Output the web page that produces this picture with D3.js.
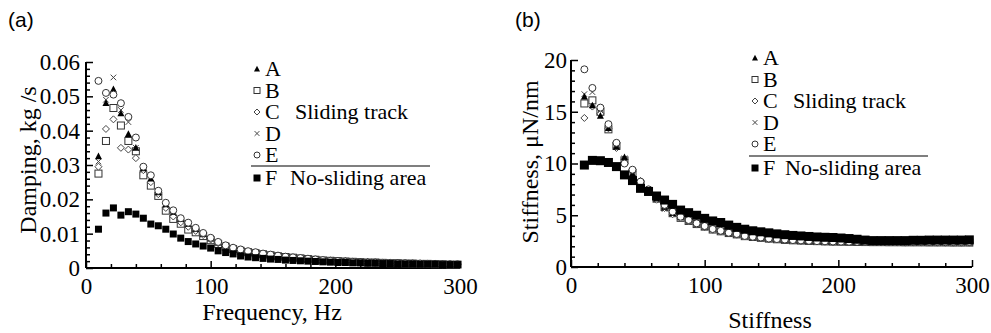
<!DOCTYPE html>
<html>
<head>
<meta charset="utf-8">
<script src="https://cdn.jsdelivr.net/npm/d3@7"></script>
<style>
  body { margin: 0; background: #fff; }
  svg { display: block; }
</style>
</head>
<body>
<div id="chart"></div>
<script>
// frequency (Hz) and stiffness sample points, shared by both panels
const freq = [10,16,22,28,34,40,46,52,58,64,70,76,82,88,94,100,106,112,118,124,130,136,142,148,154,160,166,172,178,184,190,196,202,208,214,220,226,232,238,244,250,256,262,268,274,280,286,292,298];

// panel (a): damping, kg/s
const dampA = [.0325,.048,.052,.045,.039,.035,.029,.026,.022,.0185,.0163,.0142,.0128,.0114,.0099,.0086,.0074,.0065,.0058,.0053,.0048,.0045,.0041,.0038,.0035,.0032,.003,.0028,.0026,.0024,.0023,.0022,.0021,.002,.0019,.0018,.0017,.0016,.0015,.0015,.0014,.0013,.0013,.0012,.0012,.0011,.0011,.0011,.001];
const dampB = [.0275,.037,.0466,.0415,.037,.034,.027,.024,.021,.0167,.0143,.0129,.0112,.0104,.0093,.0081,.007,.0062,.0055,.005,.0046,.0043,.004,.0037,.0034,.0032,.003,.0028,.0026,.0024,.0022,.0021,.002,.0019,.0018,.0017,.0016,.0016,.0015,.0014,.0014,.0013,.0013,.0012,.0012,.0011,.0011,.001,.001];
const dampC = [.0295,.0405,.0433,.035,.0345,.032,.0285,.025,.0215,.0175,.015,.0133,.012,.0108,.0096,.0083,.0072,.0063,.0057,.0052,.0047,.0044,.0041,.0038,.0035,.0032,.003,.0028,.0026,.0024,.0022,.0021,.002,.0019,.0018,.0017,.0017,.0016,.0015,.0014,.0014,.0013,.0013,.0012,.0012,.0011,.0011,.001,.001];
const dampD = [.031,.049,.0555,.046,.0425,.035,.0288,.0262,.0222,.0182,.016,.014,.0126,.0112,.0098,.0085,.0074,.0064,.0058,.0053,.0048,.0045,.0041,.0038,.0035,.0033,.003,.0028,.0026,.0024,.0023,.0022,.0021,.002,.0019,.0018,.0017,.0016,.0015,.0015,.0014,.0013,.0013,.0012,.0012,.0011,.0011,.0011,.001];
const dampE = [.0545,.051,.0505,.048,.044,.038,.0295,.027,.0225,.019,.0168,.0145,.0132,.0117,.0102,.0088,.0076,.0066,.0059,.0054,.0049,.0046,.0042,.0039,.0036,.0033,.0031,.0029,.0027,.0025,.0023,.0021,.002,.0019,.0018,.0017,.0016,.0016,.0015,.0015,.0014,.0014,.0013,.0013,.0012,.0012,.0011,.0011,.0011];
const dampF = [.0113,.016,.0175,.0154,.0164,.0157,.0145,.0128,.0123,.0113,.0099,.0087,.0077,.007,.0064,.0058,.005,.0045,.0041,.0035,.0032,.003,.0028,.0026,.0025,.0023,.0022,.0021,.002,.0019,.0018,.0017,.0016,.0016,.0015,.0015,.0014,.0014,.0013,.0013,.0012,.0012,.0012,.0011,.0011,.0011,.001,.001,.001];

// panel (b): stiffness, uN/nm
const stiffA = [16.45,15.6,14.6,13.4,11.6,10.6,9.0,8.3,7.4,6.6,5.8,5.2,4.8,4.5,4.2,3.9,3.65,3.45,3.3,3.15,3.0,2.9,2.82,2.75,2.68,2.62,2.58,2.55,2.52,2.5,2.48,2.46,2.45,2.44,2.42,2.41,2.4,2.4,2.39,2.39,2.38,2.38,2.38,2.37,2.37,2.37,2.36,2.36,2.36];
const stiffB = [15.8,16.1,15.0,13.3,11.7,10.3,9.1,8.0,7.3,6.6,5.8,5.2,4.75,4.45,4.15,3.9,3.62,3.45,3.28,3.15,2.98,2.9,2.82,2.74,2.68,2.62,2.58,2.55,2.52,2.5,2.47,2.45,2.44,2.43,2.42,2.41,2.4,2.4,2.39,2.39,2.38,2.38,2.38,2.37,2.37,2.37,2.36,2.36,2.36];
const stiffC = [14.4,15.5,14.8,13.4,11.5,10.4,9.2,8.3,7.3,6.5,5.7,5.1,4.7,4.4,4.1,3.85,3.6,3.42,3.26,3.12,2.96,2.88,2.8,2.72,2.66,2.6,2.56,2.53,2.5,2.48,2.46,2.44,2.43,2.42,2.41,2.4,2.4,2.39,2.39,2.38,2.38,2.37,2.37,2.37,2.36,2.36,2.36,2.35,2.35];
const stiffD = [16.7,16.9,15.2,13.5,11.7,10.5,9.1,8.2,7.35,6.6,5.6,5.1,4.75,4.45,4.15,3.9,3.62,3.45,3.28,3.14,2.97,2.9,2.82,2.74,2.67,2.62,2.57,2.54,2.51,2.49,2.47,2.45,2.44,2.43,2.42,2.41,2.4,2.4,2.39,2.39,2.38,2.38,2.37,2.37,2.37,2.36,2.36,2.36,2.35];
const stiffE = [19.1,17.3,15.4,13.8,12.0,10.0,9.4,8.25,7.5,6.8,6.0,5.35,4.86,4.54,4.22,3.96,3.67,3.5,3.31,3.19,3.0,2.92,2.85,2.75,2.7,2.65,2.6,2.57,2.53,2.5,2.48,2.46,2.45,2.44,2.43,2.42,2.41,2.4,2.41,2.4,2.39,2.4,2.4,2.41,2.4,2.39,2.4,2.4,2.41];
const stiffF = [9.85,10.3,10.27,10.1,9.7,8.9,8.35,7.6,7.3,6.86,6.47,6.05,5.5,5.25,5.0,4.7,4.45,4.3,4.05,3.83,3.65,3.5,3.4,3.3,3.2,3.12,3.05,3.0,2.95,2.9,2.87,2.85,2.8,2.75,2.68,2.6,2.55,2.55,2.55,2.55,2.55,2.58,2.58,2.6,2.6,2.6,2.6,2.6,2.62];

const seriesNames = ['A', 'B', 'C', 'D', 'E', 'F'];
const markerOf = { A: 'triangle', B: 'square', C: 'diamond', D: 'times', E: 'circle', F: 'bigsquare' };

const xTicksMajor = [0, 100, 200, 300];
const xTicksMinor = [20, 40, 60, 80, 120, 140, 160, 180, 220, 240, 260, 280];

const serif = '"Liberation Serif", "Times New Roman", Times, serif';

const svg = d3.select('#chart').append('svg')
  .attr('width', 991)
  .attr('height', 333);

// draw one marker shape at (cx, cy)
function marker(g, type, cx, cy, s) {
  const h = s / 2;
  if (type === 'triangle') {
    g.append('path')
      .attr('d', `M${cx},${cy - h * 1.1}L${cx + h},${cy + h * 0.8}L${cx - h},${cy + h * 0.8}Z`)
      .attr('fill', '#000');
  } else if (type === 'square') {
    g.append('rect')
      .attr('x', cx - h).attr('y', cy - h).attr('width', s).attr('height', s)
      .attr('fill', '#fff').attr('stroke', '#333').attr('stroke-width', 1);
  } else if (type === 'bigsquare') {
    g.append('rect')
      .attr('x', cx - h).attr('y', cy - h).attr('width', s).attr('height', s)
      .attr('fill', '#000');
  } else if (type === 'diamond') {
    g.append('path')
      .attr('d', `M${cx},${cy - h}L${cx + h},${cy}L${cx},${cy + h}L${cx - h},${cy}Z`)
      .attr('fill', '#fff').attr('stroke', '#444').attr('stroke-width', 1);
  } else if (type === 'times') {
    const k = h * 0.8;
    g.append('path')
      .attr('d', `M${cx - k},${cy - k}L${cx + k},${cy + k}M${cx - k},${cy + k}L${cx + k},${cy - k}`)
      .attr('stroke', '#444').attr('stroke-width', 1);
  } else if (type === 'circle') {
    g.append('circle')
      .attr('cx', cx).attr('cy', cy).attr('r', h)
      .attr('fill', '#fff').attr('stroke', '#333').attr('stroke-width', 1);
  }
}

function drawPanel(cfg) {
  const g = svg.append('g');
  const x = d3.scaleLinear().domain([0, 300]).range(cfg.xRange);
  const y = d3.scaleLinear().domain(cfg.yDomain).range(cfg.yRange);
  const y0 = cfg.yRange[0];
  const x0 = cfg.xRange[0];

  // inward ticks
  g.append('g').attr('transform', `translate(0,${y0})`)
    .call(d3.axisBottom(x).tickValues(xTicksMinor).tickSize(-4).tickSizeOuter(0).tickFormat(''))
    .call(a => a.select('.domain').remove());
  g.append('g').attr('transform', `translate(0,${y0})`)
    .call(d3.axisBottom(x).tickValues(xTicksMajor).tickSize(-7).tickSizeOuter(0).tickFormat(''))
    .call(a => a.select('.domain').remove());
  g.append('g').attr('transform', `translate(${x0},0)`)
    .call(d3.axisLeft(y).tickValues(cfg.yMinor).tickSize(-4).tickSizeOuter(0).tickFormat(''))
    .call(a => a.select('.domain').remove());
  g.append('g').attr('transform', `translate(${x0},0)`)
    .call(d3.axisLeft(y).tickValues(cfg.yMajor).tickSize(-7).tickSizeOuter(0).tickFormat(''))
    .call(a => a.select('.domain').remove());
  g.selectAll('.tick line').attr('stroke', '#000').attr('stroke-width', 1.5);

  // axis lines
  g.append('line').attr('x1', x0).attr('x2', cfg.xRange[1]).attr('y1', y0).attr('y2', y0)
    .attr('stroke', '#000').attr('stroke-width', 2);
  g.append('line').attr('x1', x0).attr('x2', x0).attr('y1', y0).attr('y2', cfg.yRange[1])
    .attr('stroke', '#000').attr('stroke-width', 2);

  // tick labels
  const xl = g.append('g').attr('transform', `translate(0,${y0})`)
    .call(d3.axisBottom(x).tickValues(xTicksMajor).tickSize(0).tickPadding(cfg.xPad));
  const yl = g.append('g').attr('transform', `translate(${x0},0)`)
    .call(d3.axisLeft(y).tickValues(cfg.yMajor).tickSize(0).tickPadding(cfg.yPad).tickFormat(cfg.yFormat));
  [xl, yl].forEach(a => {
    a.select('.domain').remove();
    a.selectAll('text').attr('fill', '#000').style('font-family', serif).style('font-size', '23px');
  });

  // axis titles
  g.append('text')
    .attr('x', cfg.xTitlePos[0]).attr('y', cfg.xTitlePos[1])
    .attr('text-anchor', 'middle')
    .style('font-family', serif).style('font-size', '24px')
    .text(cfg.xTitle);
  g.append('text')
    .attr('transform', `translate(${cfg.yTitlePos[0]},${cfg.yTitlePos[1]}) rotate(-90)`)
    .attr('text-anchor', 'middle')
    .style('font-family', serif).style('font-size', '24px')
    .text(cfg.yTitle);

  // panel letter
  g.append('text')
    .attr('x', cfg.letterPos[0]).attr('y', cfg.letterPos[1])
    .style('font-family', '"Liberation Sans", Arial, sans-serif').style('font-size', '21px')
    .text(cfg.letter);

  // data points, F last so the black squares cover the converged tails
  const order = ['B', 'C', 'D', 'A', 'E', 'F'];
  order.forEach(name => {
    const vals = cfg.series[name];
    const sg = g.append('g').attr('class', 'series-' + name);
    freq.forEach((f, i) => {
      const s = name === 'F' ? cfg.fSize : 7;
      marker(sg, markerOf[name], x(f), y(vals[i]), s);
    });
  });

  // legend
  const lg = g.append('g');
  const legFont = '22px';
  seriesNames.forEach((name, i) => {
    const by = cfg.legendBase[i];
    marker(lg, markerOf[name], cfg.legendX, by - 7, name === 'F' ? 7 : 6);
    lg.append('text')
      .attr('x', cfg.legendX + 8).attr('y', by)
      .style('font-family', serif).style('font-size', legFont)
      .text(name);
  });
  lg.append('text')
    .attr('x', cfg.slidingX).attr('y', cfg.legendBase[2])
    .style('font-family', serif).style('font-size', legFont)
    .text('Sliding track');
  lg.append('text')
    .attr('x', cfg.noSlideX).attr('y', cfg.legendBase[5])
    .style('font-family', serif).style('font-size', legFont)
    .text('No-sliding area');
  lg.append('line')
    .attr('x1', cfg.sepLine[0]).attr('x2', cfg.sepLine[1])
    .attr('y1', cfg.sepLine[2]).attr('y2', cfg.sepLine[2])
    .attr('stroke', '#000').attr('stroke-width', 1.2);
}

drawPanel({
  letter: '(a)', letterPos: [8, 27],
  xRange: [86, 460], yRange: [268, 62],
  yDomain: [0, 0.06],
  yMajor: [0, 0.01, 0.02, 0.03, 0.04, 0.05, 0.06],
  yMinor: d3.range(1, 30).filter(k => k % 5 !== 0).map(k => k * 0.002),
  yFormat: d => d === 0 ? '0' : d3.format('.2f')(d),
  xPad: 10, yPad: 6,
  xTitle: 'Frequency, Hz', xTitlePos: [272, 320],
  yTitle: 'Damping, kg /s', yTitlePos: [36, 160],
  fSize: 7,
  series: { A: dampA, B: dampB, C: dampC, D: dampD, E: dampE, F: dampF },
  legendX: 257, legendBase: [76, 97.5, 119, 140.5, 162, 185],
  slidingX: 295, noSlideX: 290, sepLine: [251, 430, 166]
});

drawPanel({
  letter: '(b)', letterPos: [515, 27],
  xRange: [571, 972], yRange: [267, 60],
  yDomain: [0, 20],
  yMajor: [0, 5, 10, 15, 20],
  yMinor: [1, 2, 3, 4, 6, 7, 8, 9, 11, 12, 13, 14, 16, 17, 18, 19],
  yFormat: d => String(d),
  xPad: 10, yPad: 4,
  xTitle: 'Stiffness', xTitlePos: [770, 328],
  yTitle: 'Stiffness, \u03bcN/nm', yTitlePos: [538, 162],
  fSize: 9,
  series: { A: stiffA, B: stiffB, C: stiffC, D: stiffD, E: stiffE, F: stiffF },
  legendX: 755, legendBase: [65, 86.5, 108, 129.5, 151, 175],
  slidingX: 793, noSlideX: 785, sepLine: [749, 928, 156]
});
</script>
</body>
</html>
